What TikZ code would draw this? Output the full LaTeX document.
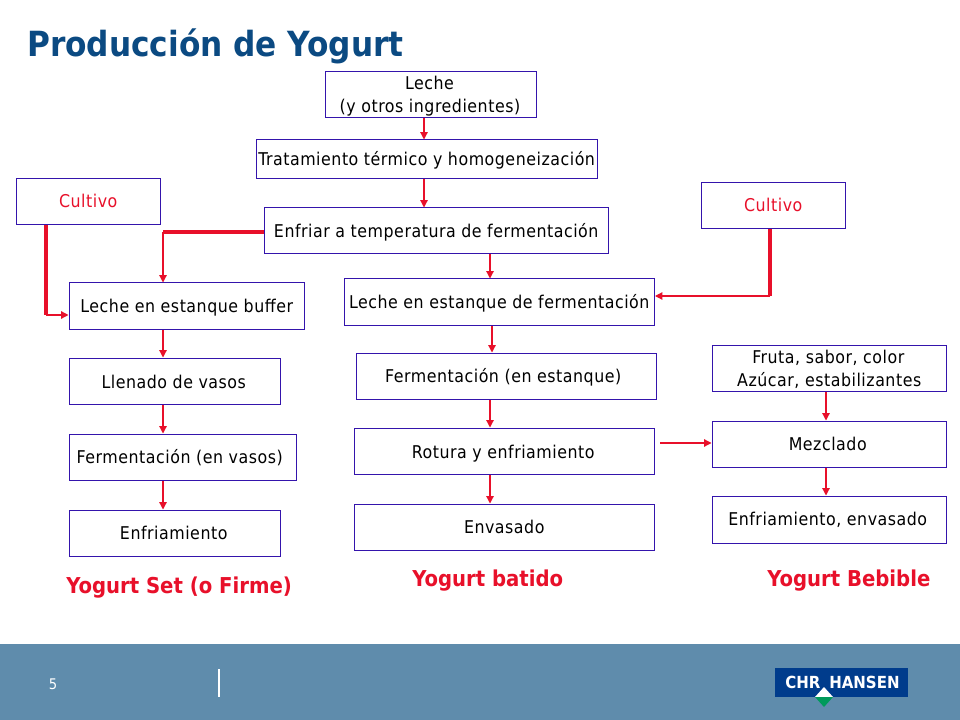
\documentclass[tikz,border=0pt]{standalone}
\usepackage{fontspec}
\setmainfont{DejaVu Sans Condensed}
\newfontfamily\boxfont[LetterSpace=3]{DejaVu Sans Condensed}
\usetikzlibrary{arrows.meta}
\definecolor{bordo}{HTML}{3414AC}
\definecolor{rojo}{HTML}{E8102A}
\definecolor{azul}{HTML}{0B4A82}
\definecolor{pie}{HTML}{5F8CAC}
\definecolor{logoazul}{HTML}{003C8C}
\definecolor{logoverde}{HTML}{009A5B}
% a line of text with its baseline dy px below and its centre dx px right of the node centre
\newcommand{\tx}[3]{\makebox[0pt]{\hspace*{\dimexpr #1pt*3/2\relax}\raisebox{\dimexpr -#2pt*3/4\relax}[0pt][0pt]{#3}}}
\newcommand{\bx}[6]{\node[flowbox,minimum width=(#4-#2)*0.75pt,minimum height=(#5-#3)*0.75pt] (#1) at ({(#2+#4)/2},{(#3+#5)/2}) {#6};}
\tikzset{
  flowbox/.style={draw=bordo,line width=0.75pt,fill=white,inner sep=0pt,font=\boxfont\fontsize{13.2}{15}\selectfont,text=black},
  thinarrow/.style={draw=rojo,line width=0.9pt,-{Triangle[length=5.5pt,width=5.5pt]}},
  thickline/.style={draw=rojo,line width=2.4pt},
  endlabel/.style={text=rojo,font=\bfseries\fontsize{16.4}{18}\selectfont,inner sep=0pt,anchor=base west},
  logotext/.style={text=white,font=\bfseries\fontsize{12.5}{14}\selectfont,inner sep=0pt,anchor=base west},
}
\begin{document}
\begin{tikzpicture}[x=0.75pt,y=-0.75pt]
\useasboundingbox (0,0) rectangle (960,720);
\fill[white] (0,0) rectangle (960,720);
\fill[pie] (0,644) rectangle (960,720);
\node[text=azul,font=\bfseries\fontsize{26}{30}\selectfont,inner sep=0pt,anchor=base west] (title) at (27,57) {Producción de Yogurt};
% boxes
\bx{leche}{325.5}{72}{536.5}{118}{\tx{-1.5}{-5}{Leche}\tx{-1}{18}{(y otros ingredientes)}}
\bx{trat}{256}{140}{597.5}{179}{\tx{0}{6}{Tratamiento térmico y homogeneización}}
\bx{enf}{264}{208}{608.5}{254}{\tx{0}{7}{Enfriar a temperatura de fermentación}}
\bx{cultA}{16}{179}{160.5}{225}{\textcolor{rojo}{\tx{0}{6}{Cultivo}}}
\bx{cultB}{701}{183}{845.5}{229}{\textcolor{rojo}{\tx{0}{6}{Cultivo}}}
\bx{buffer}{69}{283}{304.5}{329}{\tx{0}{6}{Leche en estanque buffer}}
\bx{llen}{69}{358}{280.5}{404}{\tx{-1}{7}{Llenado de vasos}}
\bx{fermv}{69}{434}{296.5}{480}{\tx{-3}{6}{Fermentación (en vasos)}}
\bx{enfria}{69}{510}{280.5}{556}{\tx{-1}{6}{Enfriamiento}}
\bx{lechef}{344}{279}{654.5}{325}{\tx{0}{6}{Leche en estanque de fermentación}}
\bx{ferme}{356}{353}{656.5}{399}{\tx{-3}{6}{Fermentación (en estanque)}}
\bx{rotura}{354}{428}{654.5}{474}{\tx{-1}{7}{Rotura y enfriamiento}}
\bx{envas}{354}{504}{654.5}{550}{\tx{0}{6}{Envasado}}
\bx{fruta}{712}{345}{946.5}{391}{\tx{-1}{-5}{Fruta, sabor, color}\tx{0}{18}{Azúcar, estabilizantes}}
\bx{mezcla}{712}{421}{946.5}{467}{\tx{-1.5}{6}{Mezclado}}
\bx{enfenv}{712}{496}{946.5}{543}{\tx{-1.5}{6}{Enfriamiento, envasado}}
% connector columns and elbows
\coordinate (colA) at (424,0);
\coordinate (colB) at (490,0);
\coordinate (colC) at (492,0);
\coordinate (colD) at (163,0);
\coordinate (colE) at (826,0);
\coordinate (colF) at (46,0);
\coordinate (colG) at (770,0);
\coordinate (rowA) at (0,232);
\coordinate (rowB) at (0,315);
\coordinate (rowC) at (0,296);
\coordinate (rowD) at (0,443);
\coordinate (kneeA) at (colD |- rowA);
\coordinate (kneeB) at (colF |- rowB);
\coordinate (kneeC) at (colG |- rowC);
\coordinate (rotStart) at (660,443);
% connectors
\draw[thinarrow] (leche.south -| colA) -- (trat.north -| colA);
\draw[thinarrow] (trat.south -| colA) -- (enf.north -| colA);
\draw[thinarrow] (enf.south -| colB) -- (lechef.north -| colB);
\draw[thinarrow] (lechef.south -| colC) -- (ferme.north -| colC);
\draw[thinarrow] (ferme.south -| colB) -- (rotura.north -| colB);
\draw[thinarrow] (rotura.south -| colB) -- (envas.north -| colB);
\draw[thinarrow] (buffer.south -| colD) -- (llen.north -| colD);
\draw[thinarrow] (llen.south -| colD) -- (fermv.north -| colD);
\draw[thinarrow] (fermv.south -| colD) -- (enfria.north -| colD);
\draw[thinarrow] (fruta.south -| colE) -- (mezcla.north -| colE);
\draw[thinarrow] (mezcla.south -| colE) -- (enfenv.north -| colE);
\draw[thinarrow] (rotStart) -- (mezcla.west |- rowD);
\draw[thickline] (enf.west |- rowA) -- (kneeA);
\draw[thinarrow] (kneeA) -- (buffer.north -| colD);
\draw[thickline] (cultA.south -| colF) -- (kneeB);
\draw[thinarrow] (kneeB) -- (buffer.west |- rowB);
\draw[thickline] (cultB.south -| colG) -- (kneeC);
\draw[thinarrow] (kneeC) -- (lechef.east |- rowC);
% product names
\node[endlabel] (setlab) at (66,593) {Yogurt Set (o Firme)};
\node[endlabel] (batlab) at (412,586) {Yogurt batido};
\node[endlabel] (beblab) at (767,586) {Yogurt Bebible};
% footer
\node[text=white,font=\fontsize{11}{12}\selectfont,inner sep=0pt,anchor=base] (pagina) at (53,689) {5};
\draw[white,line width=1.2pt] (219,669) -- (219,697);
\fill[logoazul] (775,668) rectangle (908,697);
\fill[white] (824,687) -- (833,697) -- (815,697) -- cycle;
\fill[logoverde] (815,697) -- (833,697) -- (824,707) -- cycle;
\node[logotext] (chr) at (785,688) {CHR};
\node[logotext] (hansen) at (829,688) {HANSEN};
\end{tikzpicture}
\end{document}
